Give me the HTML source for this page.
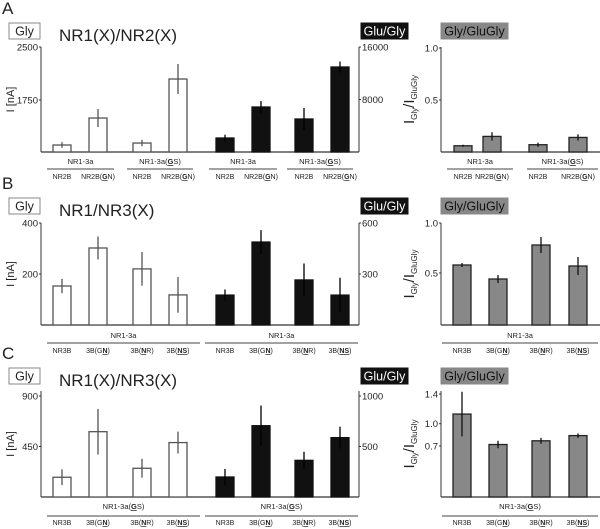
<!DOCTYPE html>
<html><head><meta charset="utf-8"><style>
body{margin:0;background:#fff;}
svg{display:block;font-family:"Liberation Sans",Arial,sans-serif;}
</style></head><body>
<svg id="fig" width="600" height="529" viewBox="0 0 600 529" xmlns="http://www.w3.org/2000/svg"></svg>
<script>
// ---- data ----
const aGlyVals=[1113,1495,1141,2047];
const aGlyErr=[40,128,45,212];
const aGluVals=[2133,6857,5029,12952];
const aGluErr=[500,900,1676,838];
const aRatioVals=[0.06,0.15,0.07,0.14];
const aRatioErr=[0.01,0.04,0.02,0.03];
const bGlyVals=[153,302,220,118];
const bGlyErr=[28,45,66,70];
const bGluVals=[176,488,265,176];
const bGluErr=[33,70,97,102];
const bRatioVals=[0.58,0.44,0.78,0.57];
const bRatioErr=[0.02,0.04,0.08,0.09];
const cGlyVals=[176,582,256,485];
const cGlyErr=[70,203,84,98];
const cGluVals=[198,706,363,588];
const cGluErr=[80,200,85,108];
const cRatioVals=[1.13,0.72,0.77,0.84];
const cRatioErr=[0.3,0.05,0.04,0.03];
const aLeftTicks=[1750,2500],aRightTicks=[8000,16000],aRatioTicks=[0.5,1.0];
const bLeftTicks=[200,400],bRightTicks=[300,600],bRatioTicks=[0.5,1.0];
const cLeftTicks=[450,900],cRightTicks=[500,1000],cRatioTicks=[0.7,1.0,1.4];
const aCats=['NR2B','NR2B(<G>N)','NR2B','NR2B(<G>N)'];
const bcCats=['NR3B','3B(G<N>)','3B(<N>R)','3B(<NS>)'];

const NS='http://www.w3.org/2000/svg';
const svg=document.getElementById('fig');
function el(tag,attrs,parent){const e=document.createElementNS(NS,tag);for(const k in attrs)e.setAttribute(k,attrs[k]);(parent||svg).appendChild(e);return e;}
function txt(x,y,s,size,anchor,parent,name){
  const t=el('text',{x:x,y:y,'font-size':size,'text-anchor':anchor||'middle',fill:'#222'},parent);
  
  
  const parts=s.split(/(<[^>]+>)/);
  parts.forEach(p=>{if(!p)return;const ts=el('tspan',{},t);
    if(p[0]==='<'){ts.textContent=p.slice(1,-1);ts.setAttribute('font-weight','bold');ts.setAttribute('text-decoration','underline');}
    else ts.textContent=p;});
  return t;
}
function lin(v0,y0,v1,y1){return v=>y0+(v-v0)*(y1-y0)/(v1-v0);}

function bars(g,xs,vals,errs,scale,base,fill,stroke,errc,name){
  vals.forEach((v,i)=>{
    const y=scale(v);
    const r=el('rect',{x:xs[i]-9,y:y,width:18,height:base-y,fill:fill,stroke:stroke,'stroke-width':1.3},g);
    
    
    const l=el('line',{x1:xs[i],x2:xs[i],y1:scale(v+errs[i]),y2:scale(v-errs[i]),stroke:errc,'stroke-width':1.3},g);
    
    
  });
}
function axisLine(g,x,y0,y1,c){el('line',{x1:x,x2:x,y1:y0,y2:y1,stroke:c||'#333','stroke-width':1},g);}
function ticks(g,x,tv,scale,side,fmt){
  tv.forEach(v=>{const y=scale(v);
    el('line',{x1:x,x2:side<0?x-2:x+2,y1:y,y2:y,stroke:'#333','stroke-width':1},g);
    txt(side<0?x-3:x+3,y+3.5,fmt?fmt(v):String(v),9.5,side<0?'end':'start',g,'tick-label');
  });
}
function legend(g,x,y,w,label,bg,fg,border,name){
  const r=el('rect',{x:x,y:y,width:w,height:16,fill:bg,stroke:border,'stroke-width':1},g);
  
  
  txt(x+w/2,y+12.5,label,12.5,'middle',g,name+'-text').setAttribute('fill',fg);
}

function panel(off,letter,title,d){
  const g=el('g',{transform:'translate(0,'+off+')'});
  
  
  txt(2,14,letter,17,'start',g,'panel-letter');
  legend(g,9,23,31,'Gly','#fff','#222','#888','gly-legend');
  legend(g,361,23,47,'Glu/Gly','#111','#fff','#111','glu-gly-legend');
  legend(g,441,23,67,'Gly/GluGly','#888','#111','#888','ratio-legend');
  txt(59,41,title,17,'start',g,'chart-title');
  const base=d.base;
  axisLine(g,41,d.top,base);
  ticks(g,41,d.lt,d.ls,-1);
  axisLine(g,359,d.top,base);
  ticks(g,359,d.rt,d.rs,1);
  el('line',{x1:41,x2:359,y1:base,y2:base,stroke:'#333','stroke-width':1.2},g);
  const yl=txt(0,0,'I [nA]',11,'middle',g,'y-axis-title');
  yl.setAttribute('transform','translate(14,'+((d.top+base)/2)+') rotate(-90)');
  bars(g,[62,98,142,178],d.gv,d.ge,d.ls,base,'#fff','#555','#555','gly');
  bars(g,[225,261,304,340],d.uv,d.ue,d.rs,base,'#111','#111','#000','glu-gly');
  axisLine(g,441,d.top,base);
  el('line',{x1:441,x2:600,y1:base,y2:base,stroke:'#333','stroke-width':1.2},g);
  ticks(g,441,d.qt,d.qs,-1,v=>v.toFixed(1));
  const ry=el('text',{'font-size':15,'text-anchor':'middle',fill:'#222'},g);
  
  
  ry.setAttribute('transform','translate(414,'+((d.top+base)/2)+') rotate(-90)');
  ry.innerHTML='<tspan>I</tspan><tspan font-size="8" dy="3">Gly</tspan><tspan dy="-3">/I</tspan><tspan font-size="8" dy="3">GluGly</tspan>';
  bars(g,d.qx,d.qv,d.qe,d.qs,base,'#888','#222','#111','ratio');
  d.groups.forEach(gr=>{
    txt((gr[0]+gr[1])/2,base+gr[3],gr[2],7.5,'middle',g,'group-label');
    el('line',{x1:gr[0],x2:gr[1],y1:base+gr[4],y2:base+gr[4],stroke:'#444','stroke-width':1},g);
  });
  const sx=[62,98,142,178,225,261,304,340];
  sx.forEach((x,i)=>txt(x,base+d.sy,d.cats[i%4],7,'middle',g,'category-label'));
  d.qx.forEach((x,i)=>txt(x,base+d.sy,d.cats[i],7,'middle',g,'category-label'));
}

const sA=lin(1750,100,2500,47);
panel(0,'A','NR1(X)/NR2(X)',{top:47,base:152,lt:aLeftTicks,ls:sA,rt:aRightTicks,rs:lin(0,152,16000,47),
 gv:aGlyVals,ge:aGlyErr,uv:aGluVals,ue:aGluErr,qt:aRatioTicks,qs:lin(0,152,1,48),qv:aRatioVals,qe:aRatioErr,
 qx:[463,492,538,578],cats:aCats,sy:27,
 groups:[[47,114,'NR1-3a',12,17],[127,193,'NR1-3a(<G>S)',12,17],[209,277,'NR1-3a',12,17],[287,353,'NR1-3a(<G>S)',12,17],[447,513,'NR1-3a',12,17],[527,598,'NR1-3a(<G>S)',12,17]]});
panel(175,'B','NR1/NR3(X)',{top:48,base:150,lt:bLeftTicks,ls:lin(0,150,400,48),rt:bRightTicks,rs:lin(0,150,600,48),
 gv:bGlyVals,ge:bGlyErr,uv:bGluVals,ue:bGluErr,qt:bRatioTicks,qs:lin(0,148,1,48),qv:bRatioVals,qe:bRatioErr,
 qx:[462,498,541,578],cats:bcCats,sy:28,
 groups:[[47,200,'NR1-3a',13,18],[205,358,'NR1-3a',13,18],[442,598,'NR1-3a',13,18]]});
panel(345,'C','NR1(X)/NR3(X)',{top:46,base:152,lt:cLeftTicks,ls:lin(0,152,900,51),rt:cRightTicks,rs:lin(0,152,1000,51),
 gv:cGlyVals,ge:cGlyErr,uv:cGluVals,ue:cGluErr,qt:cRatioTicks,qs:lin(0,153,1.4,49),qv:cRatioVals,qe:cRatioErr,
 qx:[462,498,541,578],cats:bcCats,sy:28,
 groups:[[47,200,'NR1-3a(<G>S)',12,19],[205,358,'NR1-3a(<G>S)',12,19],[442,598,'NR1-3a(<G>S)',12,19]]});
</script>
</body></html>
